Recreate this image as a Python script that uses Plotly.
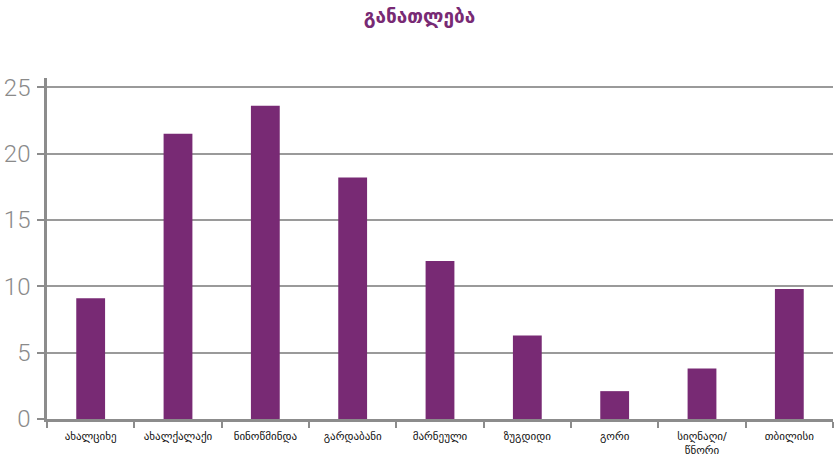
import plotly.graph_objects as go

# მონაცემები
categories = ["ახალციხე", "ახალქალაქი", "ნინოწმინდა", "გარდაბანი", "მარნეული",
              "ზუგდიდი", "გორი", "სიღნაღი/<br>წნორი", "თბილისი"]
values = [9.1, 21.5, 23.6, 18.2, 11.9, 6.3, 2.1, 3.8, 9.8]
y_ticks = [0, 5, 10, 15, 20, 25]

PURPLE = "#782A74"
AXIS_GRAY = "#8C8C8C"

fig = go.Figure()
fig.add_trace(
    go.Bar(
        x=categories,
        y=values,
        marker=dict(color=PURPLE, line=dict(width=0)),
        width=0.33,
    )
)

fig.update_layout(
    title=dict(
        text="<b>განათლება</b>",
        x=0.5,
        xanchor="center",
        y=0.964,
        yanchor="middle",
        font=dict(family="DejaVu Sans", size=19, color=PURPLE),
    ),
    width=839,
    height=458,
    margin=dict(l=47, r=6, t=78, b=39),
    plot_bgcolor="white",
    paper_bgcolor="white",
    showlegend=False,
)

fig.update_yaxes(
    range=[0, 25.7],
    tickvals=y_ticks,
    automargin=False,
    showgrid=True,
    gridcolor="#9A9A9A",
    gridwidth=1.5,
    showline=True,
    linecolor=AXIS_GRAY,
    linewidth=2.5,
    ticks="outside",
    ticklen=7,
    tickwidth=2,
    tickcolor=AXIS_GRAY,
    ticklabelstandoff=2,
    tickfont=dict(family="Roboto", size=24, color="#8A8A8A", weight=300),
    zeroline=False,
)

fig.update_xaxes(
    automargin=False,
    showline=True,
    linecolor=AXIS_GRAY,
    linewidth=2.5,
    ticks="outside",
    tickson="boundaries",
    ticklen=6,
    tickwidth=1.5,
    tickcolor=AXIS_GRAY,
    tickfont=dict(family="DejaVu Sans", size=11, color="#111111"),
    ticklabelstandoff=5,
    showgrid=False,
)

# გვერდის ნაგულისხმევი 8px დაშორების მოხსნა
fig.write_html(
    "out.html",
    config={"displayModeBar": False},
    post_script="document.body.style.margin='0';",
)
